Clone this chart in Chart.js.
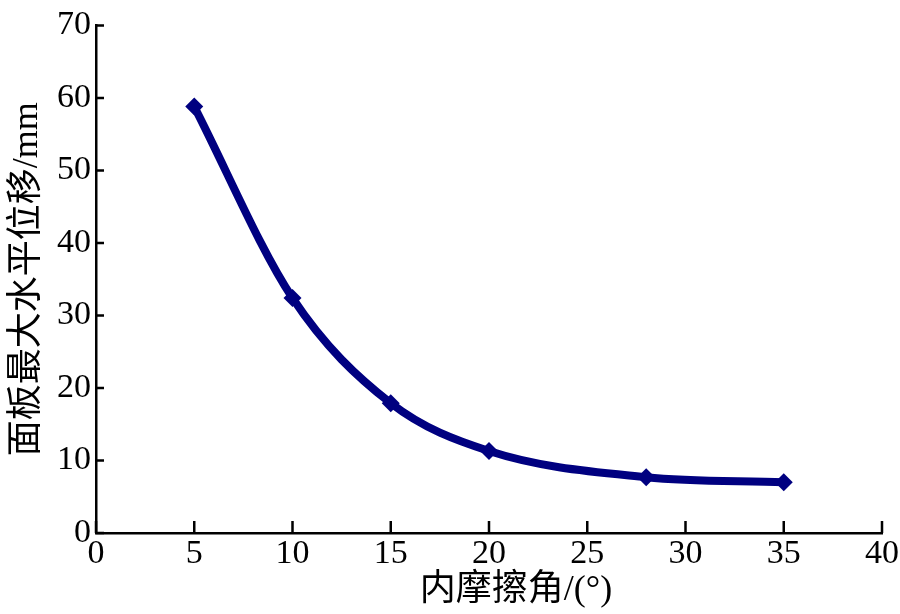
<!DOCTYPE html>
<html><head><meta charset="utf-8">
<script src="https://cdn.jsdelivr.net/npm/chart.js@4"></script>
<style>html,body{margin:0;padding:0;background:#fff}#wrap{width:900px;height:614px}</style>
</head><body><div id="wrap"><canvas id="c" width="900" height="614"></canvas></div>
<script>
const frictionAngle = [5, 10, 15, 20, 28, 35];
const maxDisplacement = [58.8, 32.4, 17.9, 11.3, 7.7, 7.0];
const xTicks = [0, 5, 10, 15, 20, 25, 30, 35, 40];
const yTicks = [0, 10, 20, 30, 40, 50, 60, 70];
const xTitle = '\u2002\u2002\u2002内摩擦角/(°)';
const yTitle = '面板最大水平位移/mm';

const FONT = '"Liberation Serif", "Times New Roman", "Noto Sans CJK SC", serif';

const innerTicks = {
  id: 'innerTicks',
  afterDraw(chart) {
    const ctx = chart.ctx, x = chart.scales.x, y = chart.scales.y;
    const ca = chart.chartArea;
    ctx.save();
    ctx.strokeStyle = '#000';
    ctx.lineWidth = 2.5;
    ctx.beginPath();
    xTicks.forEach(v => { const px = x.getPixelForValue(v); ctx.moveTo(px, ca.bottom); ctx.lineTo(px, ca.bottom - 12); });
    yTicks.forEach(v => { const py = y.getPixelForValue(v); ctx.moveTo(ca.left, py); ctx.lineTo(ca.left + 8, py); });
    ctx.stroke();
    ctx.restore();
  }
};

new Chart(document.getElementById('c'), {
  type: 'line',
  data: {
    datasets: [{
      data: frictionAngle.map((v, i) => ({x: v, y: maxDisplacement[i]})),
      borderColor: '#000080',
      backgroundColor: '#000080',
      borderWidth: 8,
      pointStyle: 'rectRot',
      pointRadius: 9,
      pointBorderWidth: 0,
      cubicInterpolationMode: 'monotone',
      fill: false
    }]
  },
  options: {
    responsive: false,
    animation: false,
    layout: {padding: {left: 0, right: 18, top: 25, bottom: 0}},
    plugins: {legend: {display: false}, tooltip: {enabled: false}},
    scales: {
      x: {
        type: 'linear', min: 0, max: 40,
        afterBuildTicks(s) { s.ticks = xTicks.map(v => ({value: v})); },
        afterFit(s) { s.height = 81; },
        grid: {display: false, drawTicks: false},
        border: {display: true, color: '#000', width: 2.5},
        ticks: {color: '#000', font: {family: FONT, size: 34}, padding: 1, maxRotation: 0, autoSkip: false},
        title: {display: true, text: xTitle, color: '#000', font: {family: FONT, size: 36}, padding: {top: 0, bottom: 2}}
      },
      y: {
        type: 'linear', min: 0, max: 70,
        afterBuildTicks(s) { s.ticks = yTicks.map(v => ({value: v})); },
        afterFit(s) { s.width = 96; },
        grid: {display: false, drawTicks: false},
        border: {display: true, color: '#000', width: 2.5},
        ticks: {color: '#000', font: {family: FONT, size: 34}, padding: 5, autoSkip: false},
        title: {display: true, text: yTitle, color: '#000', font: {family: FONT, size: 36}, padding: {top: 6, bottom: 0}}
      }
    }
  },
  plugins: [innerTicks]
});
</script></body></html>
